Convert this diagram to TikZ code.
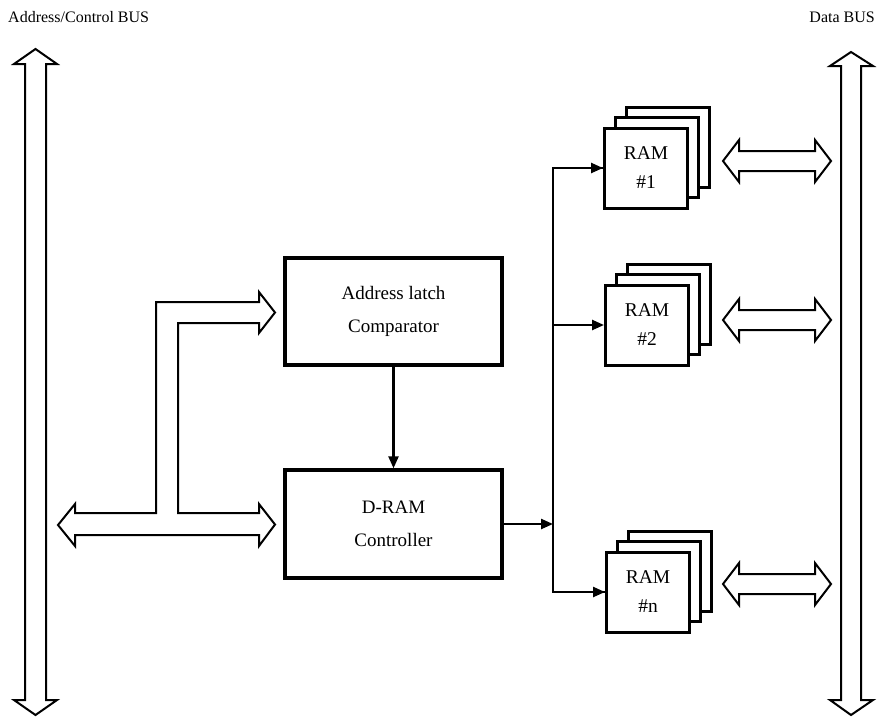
\documentclass[tikz,border=0pt]{standalone}
\usepackage{fontspec}
\setmainfont{Liberation Serif}
\usetikzlibrary{arrows.meta}
\tikzset{
  blk/.style={draw, line width=3.4pt, fill=white, inner sep=0pt, align=center,
    font=\fontsize{19}{33}\selectfont},
  ramf/.style={draw, line width=3pt, fill=white, minimum width=83pt, minimum height=80pt,
    inner sep=0pt, align=center, font=\fontsize{19.5}{29}\selectfont},
  hollow/.style={draw, line width=2pt, fill=white, line join=miter},
  conn/.style={line width=2.4pt, -{Triangle[length=12pt,width=10pt]}},
  wire/.style={line width=2.4pt},
  lbl/.style={font=\fontsize{16}{18}\selectfont, inner sep=0pt}
}
\newcommand{\dblarrow}[1]{%
  \draw[hollow] (723,#1) -- (739,#1-21) -- (739,#1-10) -- (815,#1-10) -- (815,#1-21)
    -- (831,#1) -- (815,#1+21) -- (815,#1+10) -- (739,#1+10) -- (739,#1+21) -- cycle;}
\begin{document}
\begin{tikzpicture}[x=1pt,y=-1pt]
\useasboundingbox (0,0) rectangle (880,718);

% titles
\node[lbl, anchor=west] (tl) at (8,17) {Address/Control BUS};
\node[lbl, anchor=east] (tr) at (875,17) {Data BUS};

% buses
\draw[hollow] (25,64) -- (14,64) -- (35.5,49) -- (57,64) -- (46,64) -- (46,700)
  -- (57,700) -- (35.5,715) -- (14,700) -- (25,700) -- cycle;
\draw[hollow] (841,66) -- (830,66) -- (851,52) -- (873,66) -- (861,66) -- (861,700)
  -- (873,700) -- (851,715) -- (830,700) -- (841,700) -- cycle;

% branching hollow arrow
\draw[hollow] (58,525) -- (75,504) -- (75,513) -- (156,513) -- (156,302) -- (259,302)
  -- (259,292) -- (275,312.5) -- (259,333) -- (259,323) -- (178,323) -- (178,513)
  -- (259,513) -- (259,504) -- (275,524.5) -- (259,546) -- (259,535) -- (75,535)
  -- (75,546) -- cycle;

% main boxes
\node[blk, minimum width=217pt, minimum height=107pt] (latch) at (393.5,311.5)
  {Address latch\\Comparator};
\node[blk, minimum width=217pt, minimum height=108pt] (dram) at (393.5,524)
  {D-RAM\\Controller};

\draw[conn] (latch) -- (dram);

% RAM stacks
\foreach \n/\x/\y/\t in {1/646/168/\#1, 2/647/325/\#2, n/648/592/\#n}{
  \node[ramf] (ram\n c) at (\x+22,\y-21) {};
  \node[ramf] (ram\n b) at (\x+11,\y-10.5) {};
  \node[ramf] (ram\n) at (\x,\y) {RAM\\\t};
}

% connectors
\coordinate (j) at (553,524);
\draw[conn] (dram.east) -- (j);
\draw[wire] (j) |- (ram1.west);
\draw[wire] (j) |- (ramn.west);
\draw[conn] (553,168) -- (ram1.west);
\draw[conn] (553,325) -- (ram2.west);
\draw[conn] (553,592) -- (ramn.west);

% data arrows
\dblarrow{161}
\dblarrow{320}
\dblarrow{584}
\end{tikzpicture}
\end{document}
